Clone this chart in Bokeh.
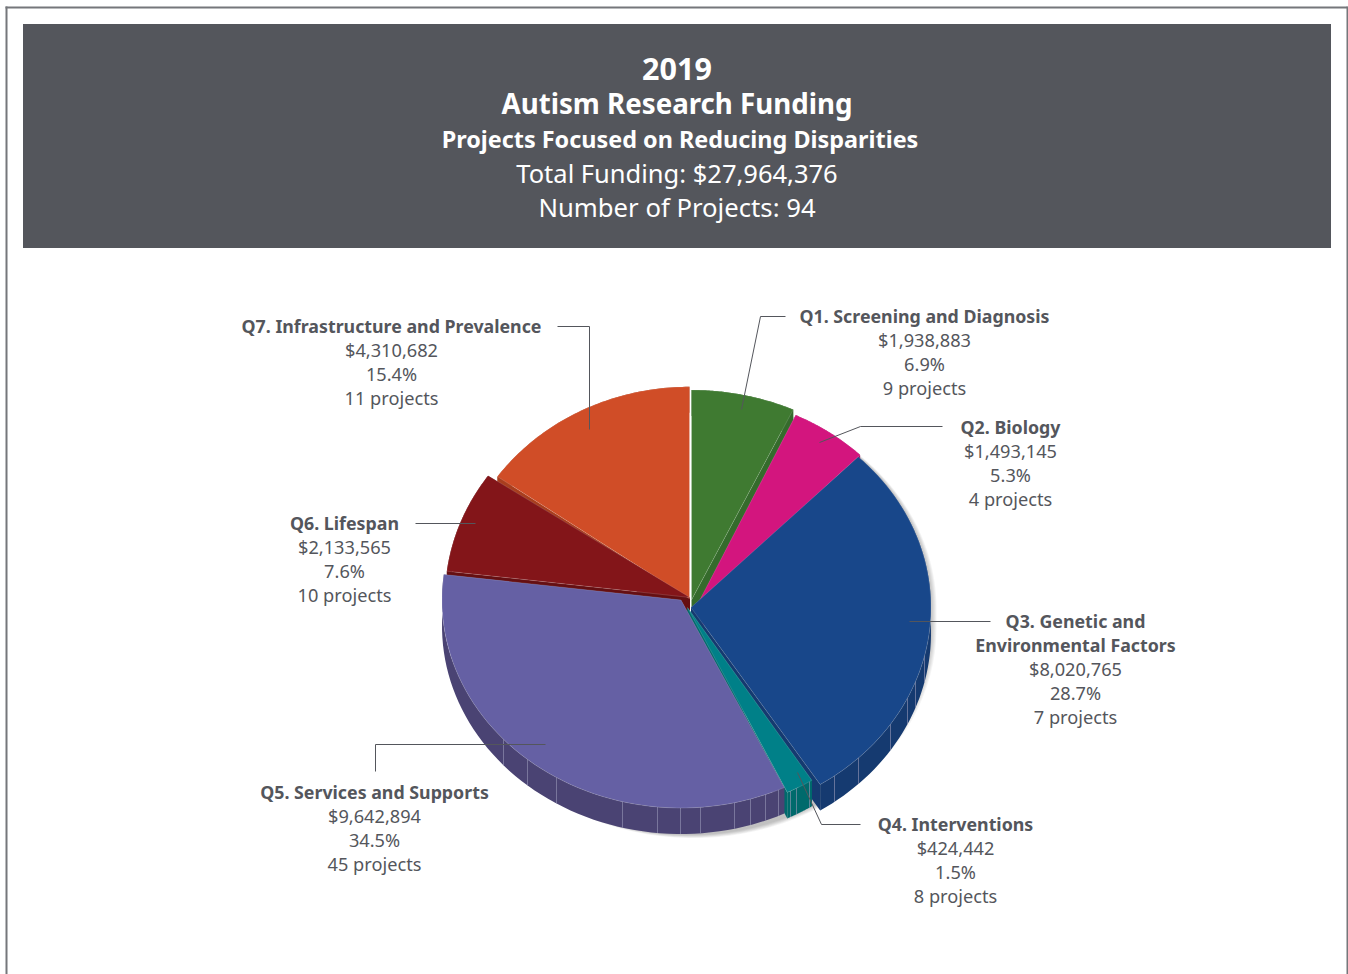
import math
from bokeh.plotting import figure
from bokeh.models import Range1d
from bokeh.core.properties import value
from bokeh.embed import file_html
from bokeh.resources import INLINE

# ---- data ----
categories = ["Q1. Screening and Diagnosis", "Q2. Biology", "Q3. Genetic and|Environmental Factors",
              "Q4. Interventions", "Q5. Services and Supports", "Q6. Lifespan", "Q7. Infrastructure and Prevalence"]
funding = [1938883, 1493145, 8020765, 424442, 9642894, 2133565, 4310682]
percent = ["6.9%", "5.3%", "28.7%", "1.5%", "34.5%", "7.6%", "15.4%"]
projects = [9, 4, 7, 8, 45, 10, 11]
header = ["2019", "Autism Research Funding", "Projects Focused on Reducing Disparities",
          "Total Funding: $27,964,376", "Number of Projects: 94"]

# ---- style / layout ----
tops = ["#3F7A31", "#D3157E", "#18478A", "#008088", "#6560A4", "#831519", "#D04D27"]
walls = ["#356B2C", "#A8106A", "#153A70", "#006A6C", "#4A4373", "#650F12", "#A83E1E"]
# centre x, centre y, radius x, radius y of each exploded slice
geom = [(691, 599.5, 241, 210), (696.5, 605, 234, 210), (690.5, 607, 240, 210), (687, 607, 231, 205),
        (680.5, 599.5, 239, 208), (689.5, 597, 245, 215), (689, 598.3, 235, 212)]
# small perspective corrections of the slice edges, degrees (start, end)
nudge = [(0, 0), (0, 0), (0, 0), (0, 1.5), (1.5, 0), (0, 0), (0.7, 0)]
DEPTH = 26
facets = {2: [834, 858, 890, 907, 915, 924], 3: [790, 796, 809],
          4: [503, 527, 556, 622, 657, 680, 700, 734, 750, 765, 778]}
label_pos = [(924, 315), (1010, 426), (1075, 620), (955, 823), (374, 791), (344, 522), (391, 325)]
leaders = [([785, 760, 741], [316, 316, 409]), ([942, 860, 819], [426, 426, 442]), ([990, 909], [621, 621]),
           ([860, 821, 797], [824, 824, 772]), ([375, 375, 545], [771, 744, 744]), ([415, 475], [523, 523]),
           ([557, 589, 589], [326, 326, 429])]
head_pos = [(676.5, 68, "bold", "30.5px"), (676.5, 102, "bold", "27.7px"), (679.5, 138, "bold", "23.4px"),
            (676.5, 172, "normal", "25.5px"), (676.5, 207, "normal", "25.7px")]
INK = "#54565C"
FONT = value("Noto Sans")

p = figure(width=1348, height=974, x_range=Range1d(0, 1348), y_range=Range1d(974, 0),
           output_backend="svg", toolbar_location=None, min_border=0)
p.axis.visible = False
p.grid.visible = False
p.outline_line_color = None
p.background_fill_color = "#FFFFFF"

# frame and header
p.multi_line([[6, 6], [5, 1347], [1347, 1347]], [[6, 974], [7, 7], [6, 974]], line_color="#75777B", line_width=2)
p.quad(left=22.5, right=1330.5, top=23.5, bottom=247.5, fill_color=INK, line_color=None)
for t, (x, y, w, s) in zip(header, head_pos):
    p.text([x], [y], text=[t], text_color="#FFFFFF", text_font=FONT, text_font_style=w, text_font_size=s,
           text_align="center", text_baseline="middle")

# slice angles come from the funding values
total = sum(funding)
angles = []
c = 0.0
for f, (n0, n1) in zip(funding, nudge):
    angles.append((c / total * 2 * math.pi + math.radians(n0), (c + f) / total * 2 * math.pi + math.radians(n1)))
    c += f

def pt(g, a, dy=0):
    return g[0] + g[2] * math.sin(a), g[1] - g[3] * math.cos(a) + dy

def arc(g, a0, a1, dy=0, n=60):
    pts = [pt(g, a0 + (a1 - a0) * i / n, dy) for i in range(n + 1)]
    return [q[0] for q in pts], [q[1] for q in pts]

# soft shadow
for d in range(1, 7):
    xs1, ys1 = arc((689 + d * .6, 606 + d * .3, 241 + d * .4, 210), math.radians(25), math.radians(90))
    xs2, ys2 = arc((689 + d * .6, 626 + d * .3, 241 + d * .4, 208 + d * .3), math.radians(90), math.radians(285))
    p.patch(xs1 + xs2 + [690], ys1 + ys2 + [620], fill_color="#000000", fill_alpha=0.045, line_color=None)

# walls (back to front), tops last
order = [0, 1, 6, 5, 2, 3, 4]
for i in order:
    g = geom[i]
    a0, a1 = angles[i]
    xs, ys = arc(g, a0, a1)
    xb, yb = arc(g, a0, a1, DEPTH)
    for a in (a0, a1):
        x1, y1 = pt(g, a)
        p.patch([g[0], x1, x1, g[0]], [g[1], y1, y1 + DEPTH, g[1] + DEPTH], fill_color=walls[i], line_color=None)
    p.patch(xs + xb[::-1], ys + yb[::-1], fill_color=walls[i], line_color=None)
for i, fx in facets.items():
    g = geom[i]
    x0s, y0s, x1s, y1s = [], [], [], []
    for x in fx:
        dy = g[3] * math.sqrt(max(0.0, 1 - ((x - g[0]) / g[2]) ** 2))
        x0s.append(x); x1s.append(x); y0s.append(g[1] + dy); y1s.append(g[1] + dy + DEPTH)
    p.segment(x0s, y0s, x1s, y1s, line_color="#9A9AB8", line_width=1, line_alpha=0.6)

for i in order:
    g = geom[i]
    a0, a1 = angles[i]
    xs, ys = arc(g, a0, a1)
    p.patch([g[0]] + xs, [g[1]] + ys, fill_color=tops[i], line_color="#FFFFFF", line_alpha=0.25, line_width=0.6)

# leaders
p.multi_line([l[0] for l in leaders], [l[1] for l in leaders], line_color=INK, line_width=1)

# labels
for cat, f, pc, n, (x, y) in zip(categories, funding, percent, projects, label_pos):
    titles = cat.split("|")
    for t in titles:
        p.text([x], [y], text=[t], text_color=INK, text_font=FONT, text_font_style="bold", text_font_size="17.8px",
               text_align="center", text_baseline="middle")
        y += 24
    for t in (f"${f:,}", pc, f"{n} projects"):
        p.text([x], [y], text=[t], text_color=INK, text_font=FONT, text_font_size="18.2px",
               text_align="center", text_baseline="middle")
        y += 24

open("out.html", "w").write(file_html(p, INLINE))
